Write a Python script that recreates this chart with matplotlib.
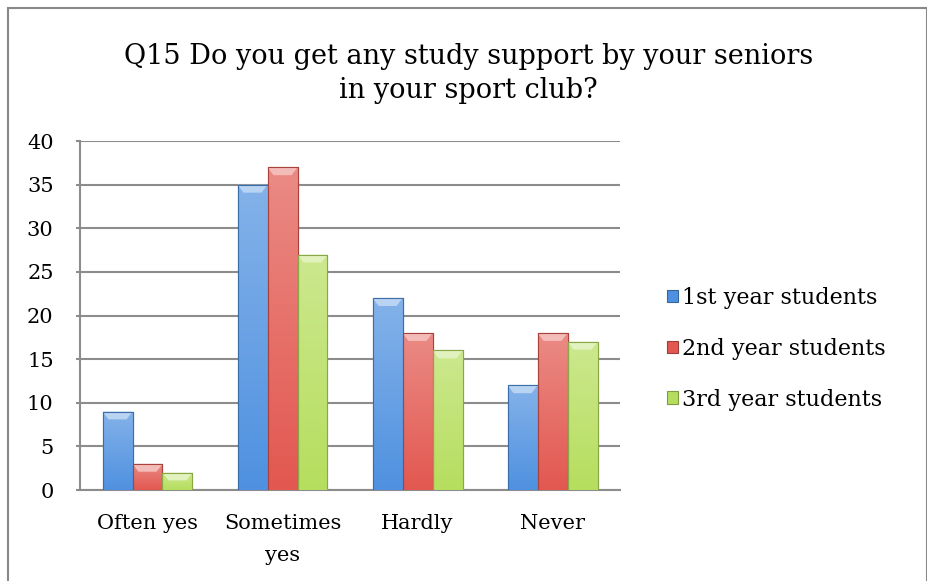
import numpy as np
import matplotlib.pyplot as plt
from matplotlib.colors import to_rgb
from matplotlib.patches import Rectangle

categories = ["Often yes", "Sometimes\nyes", "Hardly", "Never"]
series_names = ["1st year students", "2nd year students", "3rd year students"]
first_year = [9, 35, 22, 12]
second_year = [3, 37, 18, 18]
third_year = [2, 27, 16, 17]
colors = ["#4F91E0", "#E25850", "#B6DE5E"]

plt.rcParams["font.family"] = ["DejaVu Serif"]

fig = plt.figure(figsize=(9.28, 5.81), dpi=100)
# grey border round the chart area
fig.patches.append(Rectangle((0.009, -0.01), 0.99, 0.996, transform=fig.transFigure,
                             fill=False, edgecolor="#888888", linewidth=1.5))
ax = fig.add_axes([0.0862, 0.1566, 0.582, 0.6004])

x = np.arange(len(categories))
width = 0.222

for i, (vals, name, col) in enumerate(zip([first_year, second_year, third_year], series_names, colors)):
    base = np.array(to_rgb(col))
    bars = ax.bar(x + (i - 1) * width, vals, width, color=col, label=name,
                  edgecolor=tuple(base * 0.7), linewidth=0.8, zorder=3)
    light = base * 0.7 + 0.3
    grad = np.linspace(0, 1, 64)
    img = np.array([light * (1 - g) + base * g for g in grad])[:, None, :]
    for b in bars:
        bx, bw, bh = b.get_x(), b.get_width(), b.get_height()
        im = ax.imshow(img, extent=(bx, bx + bw, 0, bh), aspect="auto", origin="upper",
                       zorder=3.5, interpolation="bicubic")
        im.set_clip_path(b)
        # bevelled top
        ax.fill([bx, bx + bw, bx + bw * 0.8, bx + bw * 0.2],
                [bh, bh, bh - 0.9, bh - 0.9], color=tuple(base * 0.4 + 0.6),
                zorder=4, linewidth=0)
        ax.plot([bx, bx, bx + bw, bx + bw], [0, bh, bh, 0], color=tuple(base * 0.75),
                linewidth=0.8, zorder=4.5)

ax.set_xlim(-0.5, 3.5)
ax.set_ylim(0, 40)
ax.set_yticks(range(0, 41, 5))
ax.set_xticks(x)
ax.set_xticklabels(categories, fontsize=15, linespacing=1.9)
ax.tick_params(axis="y", labelsize=15, length=3, width=1.5, color="#8c8c8c", pad=16)
ax.tick_params(axis="x", length=0, pad=17)
ax.grid(axis="y", color="#8c8c8c", linewidth=1.5, zorder=0)
for s in ["top", "right"]:
    ax.spines[s].set_visible(False)
for s in ["left", "bottom"]:
    ax.spines[s].set_color("#8c8c8c")
    ax.spines[s].set_linewidth(1.5)

fig.text(0.505, 0.926, "Q15 Do you get any study support by your seniors\nin your sport club?",
         ha="center", va="top", fontsize=19.5, linespacing=1.35)

ax.legend(loc="center left", bbox_to_anchor=(1.05, 0.405), frameon=False, fontsize=16,
          labelspacing=1.3, handlelength=0.5, handleheight=0.5, handletextpad=0.15)

fig.savefig("out.png", dpi=100)
